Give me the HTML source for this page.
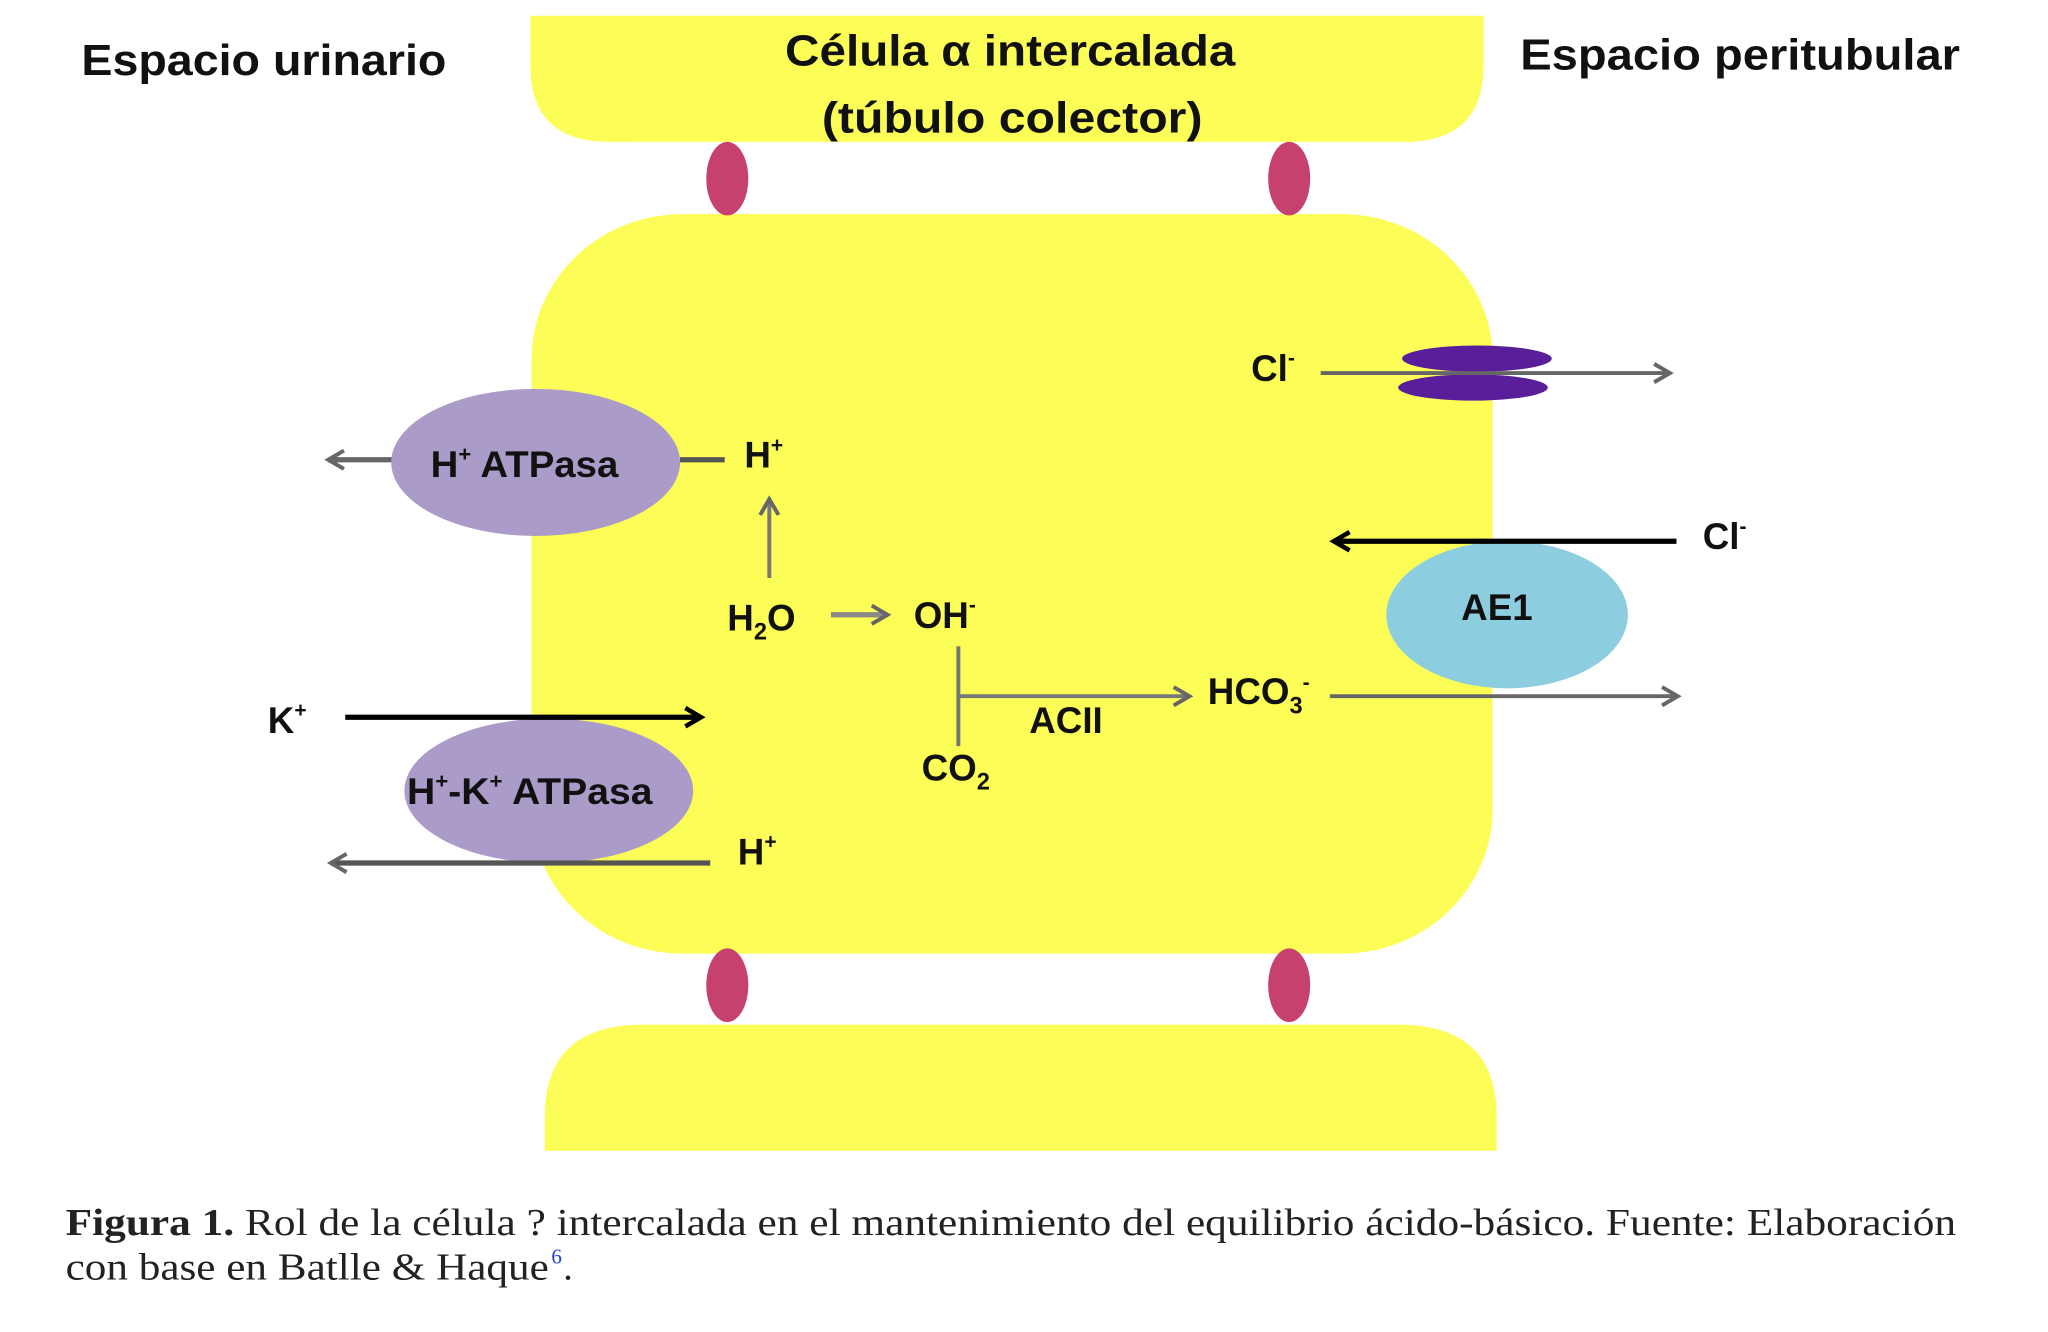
<!DOCTYPE html>
<html><head><meta charset="utf-8"><style>
html,body{margin:0;padding:0;background:#fff;}
svg{display:block;}
.t{font-family:"Liberation Sans",sans-serif;font-weight:bold;fill:#111;}
.s{font-family:"Liberation Serif",serif;fill:#222;}
</style></head><body>
<svg width="2048" height="1332" viewBox="0 0 1560 1014" preserveAspectRatio="none" xmlns="http://www.w3.org/2000/svg">
<defs>
<marker id="ag" markerWidth="10" markerHeight="10" refX="8" refY="5" orient="auto" markerUnits="userSpaceOnUse" viewBox="0 0 10 10"><path d="M1,1 L8,5 L1,9" fill="none" stroke="#666" stroke-width="2"/></marker>
<marker id="ak" markerWidth="12" markerHeight="12" refX="9" refY="6" orient="auto" markerUnits="userSpaceOnUse" viewBox="0 0 12 12"><path d="M1,1 L9,6 L1,11" fill="none" stroke="#000" stroke-width="2.5"/></marker>
<marker id="ag2" markerWidth="20" markerHeight="20" refX="16" refY="10" orient="auto" markerUnits="userSpaceOnUse" viewBox="0 0 20 20"><path d="M4,3 L16,10 L4,17" fill="none" stroke="#666" stroke-width="3"/></marker>
<marker id="ak2" markerWidth="20" markerHeight="20" refX="16" refY="10" orient="auto" markerUnits="userSpaceOnUse" viewBox="0 0 20 20"><path d="M4,3 L16,10 L4,17" fill="none" stroke="#000" stroke-width="3.5"/></marker>
</defs>
<!-- cells -->
<path d="M404,12 H1130 V50 Q1130,108 1070,108 H464 Q404,108 404,50 Z" fill="#fdfd58"/>
<rect x="405" y="163" width="732" height="563" rx="115" ry="110" fill="#fdfd58"/>
<path d="M415,876 V850 Q415,780 490,780 H1065 Q1140,780 1140,850 V876 Z" fill="#fdfd58"/>
<ellipse cx="554" cy="136" rx="16" ry="28" fill="#c6416f"/>
<ellipse cx="982" cy="136" rx="16" ry="28" fill="#c6416f"/>
<ellipse cx="554" cy="750" rx="16" ry="28" fill="#c6416f"/>
<ellipse cx="982" cy="750" rx="16" ry="28" fill="#c6416f"/>
<!-- titles -->
<text class="t" x="62" y="57" font-size="33" textLength="278" lengthAdjust="spacingAndGlyphs">Espacio urinario</text>
<text class="t" x="598" y="50" font-size="33" textLength="343" lengthAdjust="spacingAndGlyphs">Célula α intercalada</text>
<text class="t" x="626" y="101" font-size="33" textLength="290" lengthAdjust="spacingAndGlyphs">(túbulo colector)</text>
<text class="t" x="1158" y="53" font-size="33" textLength="335" lengthAdjust="spacingAndGlyphs">Espacio peritubular</text>
<!-- H+ ATPasa -->
<line x1="300" y1="350" x2="250" y2="350" stroke="#666" stroke-width="4" marker-end="url(#ag2)"/>
<ellipse cx="408" cy="352" rx="110" ry="56" fill="#aa9bc8"/>
<line x1="518" y1="350" x2="552" y2="350" stroke="#555" stroke-width="4"/>
<text class="t" x="328" y="363" font-size="28" textLength="143" lengthAdjust="spacingAndGlyphs">H<tspan font-size="16" dy="-12">+</tspan><tspan dy="12"> ATPasa</tspan></text>
<text class="t" x="567" y="356" font-size="28">H<tspan font-size="16" dy="-12">+</tspan></text>
<line x1="586" y1="440" x2="586" y2="380" stroke="#777" stroke-width="3" marker-end="url(#ag2)"/>
<!-- H2O -> OH- -->
<text class="t" x="554" y="480" font-size="28">H<tspan font-size="18" dy="7">2</tspan><tspan dy="-7">O</tspan></text>
<line x1="633" y1="468" x2="676" y2="468" stroke="#888" stroke-width="4" marker-end="url(#ag2)"/>
<text class="t" x="696" y="478" font-size="28">OH<tspan font-size="16" dy="-12">-</tspan></text>
<line x1="730" y1="492" x2="730" y2="568" stroke="#777" stroke-width="3"/>
<line x1="730" y1="530" x2="906" y2="530" stroke="#777" stroke-width="3" marker-end="url(#ag2)"/>
<text class="t" x="784" y="558" font-size="28">ACII</text>
<text class="t" x="702" y="594" font-size="28">CO<tspan font-size="18" dy="7">2</tspan></text>
<text class="t" x="920" y="536" font-size="28">HCO<tspan font-size="18" dy="7">3</tspan><tspan font-size="16" dy="-18">-</tspan></text>
<line x1="1013" y1="530" x2="1278" y2="530" stroke="#666" stroke-width="3" marker-end="url(#ag2)"/>
<!-- K+ / H+-K+ ATPasa -->
<ellipse cx="418" cy="602" rx="110" ry="55" fill="#aa9bc8"/>
<text class="t" x="204" y="558" font-size="28">K<tspan font-size="16" dy="-12">+</tspan></text>
<line x1="263" y1="546" x2="534" y2="546" stroke="#000" stroke-width="4" marker-end="url(#ak2)"/>
<text class="t" x="310" y="612" font-size="28" textLength="187" lengthAdjust="spacingAndGlyphs">H<tspan font-size="16" dy="-12">+</tspan><tspan dy="12">-K</tspan><tspan font-size="16" dy="-12">+</tspan><tspan dy="12"> ATPasa</tspan></text>
<text class="t" x="562" y="658" font-size="28">H<tspan font-size="16" dy="-12">+</tspan></text>
<line x1="541" y1="657" x2="252" y2="657" stroke="#555" stroke-width="4" marker-end="url(#ag2)"/>
<!-- Cl- channel -->
<text class="t" x="953" y="290" font-size="28">Cl<tspan font-size="16" dy="-12">-</tspan></text>
<ellipse cx="1125" cy="273" rx="57" ry="10" fill="#5a1e9a"/>
<ellipse cx="1122" cy="295" rx="57" ry="10" fill="#5a1e9a"/>
<line x1="1006" y1="284" x2="1272" y2="284" stroke="#666" stroke-width="3" marker-end="url(#ag2)"/>
<!-- AE1 -->
<ellipse cx="1148" cy="468" rx="92" ry="56" fill="#8ccde0"/>
<text class="t" x="1113" y="472" font-size="28">AE1</text>
<text class="t" x="1297" y="418" font-size="28">Cl<tspan font-size="16" dy="-12">-</tspan></text>
<line x1="1277" y1="412" x2="1016" y2="412" stroke="#000" stroke-width="4" marker-end="url(#ak2)"/>
<!-- caption -->
<text class="s" x="50" y="940" font-size="29" textLength="1440" lengthAdjust="spacingAndGlyphs"><tspan font-weight="bold">Figura 1.</tspan> Rol de la célula ? intercalada en el mantenimiento del equilibrio ácido-básico. Fuente: Elaboración</text>
<text class="s" x="50" y="974" font-size="29" textLength="368" lengthAdjust="spacingAndGlyphs">con base en Batlle &amp; Haque</text>
<text class="s" x="420" y="962" font-size="16" fill="#2244cc" style="fill:#2244cc">6</text>
<text class="s" x="429" y="974" font-size="29">.</text>
</svg>
</body></html>
